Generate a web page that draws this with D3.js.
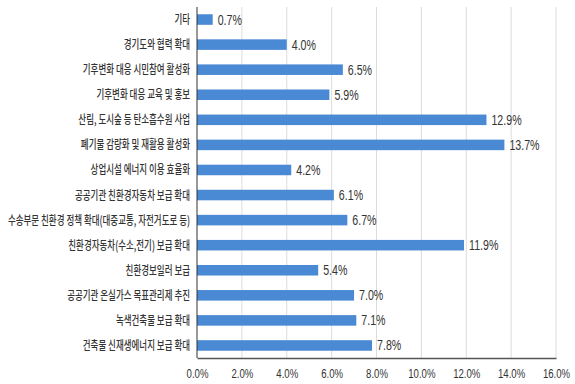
<!DOCTYPE html>
<html>
<head>
<meta charset="utf-8">
<script src="https://cdn.jsdelivr.net/npm/d3@7"></script>
<style>
  html, body { margin: 0; padding: 0; background: #fff; }
  svg { display: block; }
</style>
</head>
<body>
<svg id="chart" width="575" height="384"></svg>
<script>
// Categories (top to bottom) and their shares in percent
const categories = [
  "기타",
  "경기도와 협력 확대",
  "기후변화 대응 시민참여 활성화",
  "기후변화 대응 교육 및 홍보",
  "산림, 도시숲 등 탄소흡수원 사업",
  "폐기물 감량화 및 재활용 활성화",
  "상업시설 에너지 이용 효율화",
  "공공기관 친환경자동차 보급 확대",
  "수송부문 친환경 정책 확대(대중교통, 자전거도로 등)",
  "친환경자동차(수소,전기) 보급 확대",
  "친환경보일러 보급",
  "공공기관 온실가스 목표관리제 추진",
  "녹색건축물 보급 확대",
  "건축물 신재생에너지 보급 확대"
];
const values = [0.7, 4.0, 6.5, 5.9, 12.9, 13.7, 4.2, 6.1, 6.7, 11.9, 5.4, 7.0, 7.1, 7.8];
const xTicks = [0, 2, 4, 6, 8, 10, 12, 14, 16];

const svg = d3.select("#chart");
const margin = { top: 7, right: 19, bottom: 26, left: 197 };
const W = 575, H = 384;
const iw = W - margin.left - margin.right;
const ih = H - margin.top - margin.bottom;

const g = svg.append("g").attr("transform", `translate(${margin.left},${margin.top})`);

const x = d3.scaleLinear().domain([0, 16]).range([0, iw]);
const y = d3.scaleBand().domain(categories).range([0, ih]).paddingInner(0.58).paddingOuter(0.29);

// vertical gridlines
g.selectAll("line.grid")
  .data(xTicks.slice(1))
  .join("line")
  .attr("class", "grid")
  .attr("x1", d => x(d)).attr("x2", d => x(d))
  .attr("y1", 0).attr("y2", ih)
  .attr("stroke", "#dcdcdc")
  .attr("stroke-width", 1);

// bars
g.selectAll("rect.bar")
  .data(values)
  .join("rect")
  .attr("class", "bar")
  .attr("x", x(0))
  .attr("y", (d, i) => y(categories[i]))
  .attr("width", d => x(d) - x(0))
  .attr("height", y.bandwidth())
  .attr("fill", "#4a89d3");

// value labels
g.selectAll("text.val")
  .data(values)
  .join("text")
  .attr("class", "val")
  .attr("transform", (d, i) => `translate(${x(d) + 5},${y(categories[i]) + y.bandwidth() / 2 + 5}) scale(0.76,1)`)
  .attr("font-family", "'Liberation Sans', Arial, sans-serif")
  .attr("font-size", 14)
  .attr("fill", "#333")
  .text(d => d.toFixed(1) + "%");

// category labels (condensed)
g.selectAll("text.cat")
  .data(categories)
  .join("text")
  .attr("class", "cat")
  .attr("text-anchor", "end")
  .attr("transform", d => `translate(-7,${y(d) + y.bandwidth() / 2 + 4.5}) scale(0.68,1)`)
  .attr("font-family", "'Noto Sans CJK KR', sans-serif")
  .attr("font-size", 12.5)
  .attr("font-weight", 500)
  .attr("fill", "#333")
  .text(d => d);

// axes
const xAxis = d3.axisBottom(x).tickValues(xTicks).tickSize(0).tickFormat(d => d.toFixed(1) + "%");
const xg = g.append("g").attr("transform", `translate(0,${ih})`).call(xAxis);
xg.select(".domain").attr("stroke", "#555").attr("stroke-width", 1.5);
xg.selectAll("text")
  .attr("font-family", "'Liberation Sans', Arial, sans-serif")
  .attr("font-size", 13)
  .attr("fill", "#333")
  .attr("y", 0)
  .attr("dy", 0)
  .attr("transform", "translate(0,20) scale(0.74,1)");

g.append("line")
  .attr("x1", 0).attr("x2", 0)
  .attr("y1", 0).attr("y2", ih)
  .attr("stroke", "#333")
  .attr("stroke-width", 1);
</script>
</body>
</html>
